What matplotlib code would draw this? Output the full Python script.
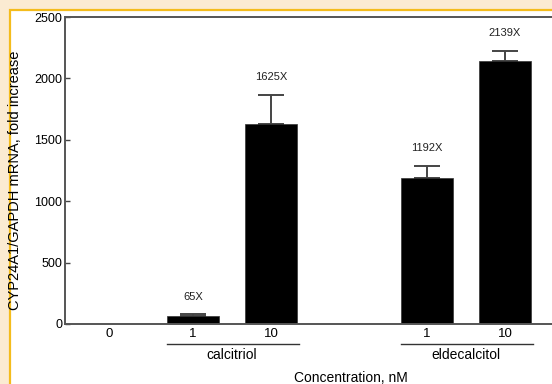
import numpy as np
import matplotlib.pyplot as plt
from matplotlib.patches import Rectangle
import matplotlib.transforms as mtransforms

plt.rcParams['font.family'] = ['Liberation Sans', 'DejaVu Sans']

# data
dose_labels = ['0', '1', '10', '1', '10']
fold_change = [1, 65, 1625, 1192, 2139]
fold_err = [0, 15, 240, 97, 88]
bar_text = ['', '65X', '1625X', '1192X', '2139X']
groups = ['calcitriol', 'eldecalcitol']

# layout
xpos = np.array([-0.08, 1, 2, 4, 5])
group_span = [(1, 2), (4, 5)]

fig = plt.figure(figsize=(5.52, 3.84), dpi=100)
fig.patch.set_facecolor('#FBEBD2')
# white panel with orange frame
fig.patches.append(Rectangle((10 / 552, -0.1), 1.2, (374 / 384) + 0.1,
                             transform=fig.transFigure, facecolor='white',
                             edgecolor='#F4BC1C', linewidth=1.6, zorder=-1))

ax = fig.add_axes([65 / 552, 60 / 384, 572 / 552, 307 / 384])
ax.set_facecolor('none')

ax.bar(xpos, fold_change, width=0.67, color='black', edgecolor='#333333',
       linewidth=0.5, zorder=2)
ax.errorbar(xpos[1:], fold_change[1:], yerr=[np.zeros(4), fold_err[1:]],
            fmt='none', ecolor='#444444', elinewidth=1.4, capsize=9.5,
            capthick=1.4, zorder=1)

for x, v, e, t in zip(xpos, fold_change, fold_err, bar_text):
    if t:
        ax.annotate(t, (x, v + e), xytext=(0, 9), textcoords='offset points',
                    ha='center', va='bottom', fontsize=8, color='#222222')

ax.set_xlim(-0.641, 6.692)
ax.set_ylim(0, 2500)
ax.set_yticks([0, 500, 1000, 1500, 2000, 2500])
ax.set_xticks(xpos)
ax.set_xticklabels(dose_labels)
ax.tick_params(axis='x', length=0, pad=3, labelsize=9.5)
ax.tick_params(axis='y', direction='in', length=3.6, width=1, color='#444444',
               pad=2, labelsize=9)

for s in ['left', 'top', 'bottom']:
    ax.spines[s].set_color('#555555')
    ax.spines[s].set_linewidth(1.4)
ax.spines['right'].set_visible(False)

# group underlines and names
trans = mtransforms.blended_transform_factory(ax.transData, ax.transAxes)
for (a, b), name in zip(group_span, groups):
    ax.plot([a - 0.335, b + 0.36], [-0.065, -0.065], transform=trans,
            color='#333333', lw=1, clip_on=False)
    ax.text((a + b) / 2, -0.101, name, transform=trans, ha='center',
            va='center', fontsize=10)

fig.text(351 / 552, 1 - 378 / 384, 'Concentration, nM', ha='center',
         va='center', fontsize=10)
fig.text(15 / 552, 1 - 180 / 384, 'CYP24A1/GAPDH mRNA, fold increase',
         rotation=90, ha='center', va='center', fontsize=10.5)

plt.savefig('out.png', dpi=100)
